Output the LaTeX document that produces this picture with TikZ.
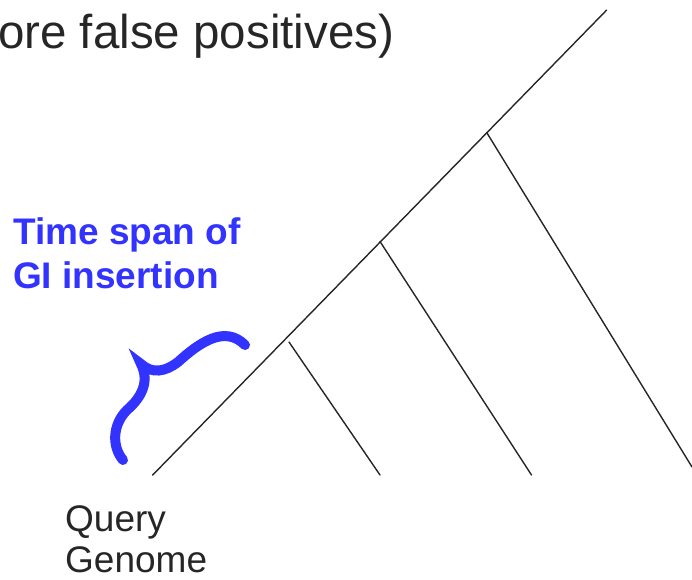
\documentclass[tikz,border=0pt]{standalone}
\usepackage{fontspec}
\setmainfont{Liberation Sans}
\usepackage{xcolor}
\usetikzlibrary{positioning}
\definecolor{spanblue}{RGB}{51,51,255}
\definecolor{textgrey}{RGB}{38,38,38}

\begin{document}
\begin{tikzpicture}[x=1pt, y=-1pt,
  branch/.style={line width=1.4pt, black!85, line cap=round},
  lbl/.style={inner sep=0pt, anchor=base west, text=textgrey},
  spanlbl/.style={inner sep=0pt, anchor=base west, text=spanblue,
                  font=\fontsize{37}{43}\selectfont\bfseries}]
\useasboundingbox (0,0) rectangle (692,579);

% ================= caption line (cut at the left) =================
\node[lbl, font=\fontsize{47.5}{52}\selectfont] (caption) at (-2,48) {ore false positives)};

% ================= the tree =================
\coordinate (root) at (152.7,475);
\coordinate (tip)  at (606.7,10);
\coordinate (nA) at (289,342);    % lowest split
\coordinate (nB) at (380,241.5);
\coordinate (nC) at (486.7,132.5);
\coordinate (leafA) at (380,475);
\coordinate (leafB) at (531.5,475);
\coordinate (leafC) at (692,467);

\draw[branch] (root) -- (tip);
\draw[branch] (nA) -- (leafA);
\draw[branch] (nB) -- (leafB);
\draw[branch] (nC) -- (leafC);

% ---------- query genome ----------
\node[lbl, font=\fontsize{37}{42}\selectfont] (query)  at (65,531) {Query};
\node[lbl, font=\fontsize{37}{42}\selectfont] (genome) at (65,572) {Genome};

% ================= time span of the insertion =================
\node[spanlbl] (span1) at (13,244) {Time span of};
\node[spanlbl] (span2) at (13,288) {GI insertion};

\draw[spanblue, line width=10pt, line cap=round, line join=miter]
  (123,460) .. controls (112,447) and (112,425) .. (127,410)
            .. controls (141,398) and (150,382) .. (141,364)
            .. controls (152,374) and (165,372) .. (178,362)
            .. controls (200,342) and (225,325) .. (245,345);

\end{tikzpicture}
\end{document}
